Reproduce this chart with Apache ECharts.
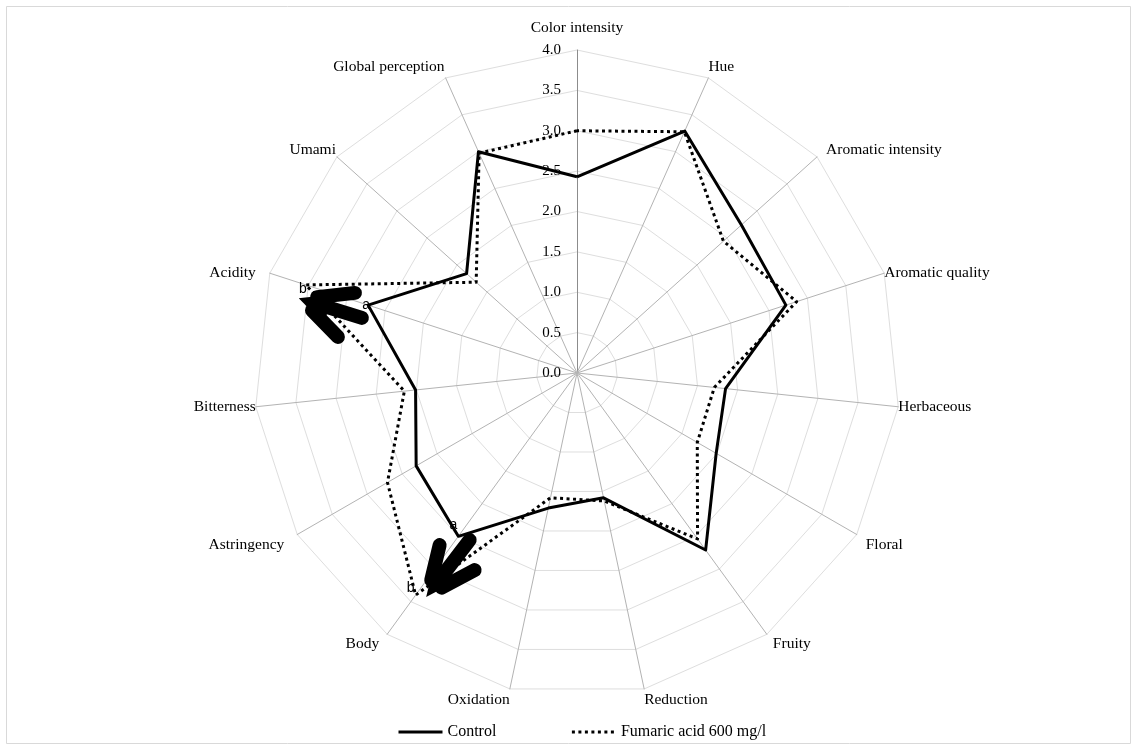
<!DOCTYPE html>
<html>
<head>
<meta charset="utf-8">
<script src="https://cdn.jsdelivr.net/npm/echarts@6/dist/echarts.min.js"></script>
<style>
  html, body { margin: 0; padding: 0; background: #fff; }
  #chart { width: 1137px; height: 750px; }
</style>
</head>
<body>
<div id="chart"></div>
<script>
// Sensory attributes, listed clockwise from the top
const attributes = [
  'Color intensity', 'Hue', 'Aromatic intensity', 'Aromatic quality', 'Herbaceous',
  'Floral', 'Fruity', 'Reduction', 'Oxidation', 'Body',
  'Astringency', 'Bitterness', 'Acidity', 'Umami', 'Global perception'
];
const controlScores = [2.43, 3.28, 2.74, 2.72, 1.85, 1.99, 2.71, 1.58, 1.71, 2.50, 2.30, 2.01, 2.72, 1.84, 3.00];
const fumaricScores = [3.00, 3.27, 2.44, 2.86, 1.71, 1.72, 2.54, 1.62, 1.58, 3.40, 2.71, 2.15, 3.53, 1.68, 2.98];
const seriesNames = ['Control', 'Fumaric acid 600 mg/l'];
const scaleMax = 4;
const scaleStep = 0.5;
// Significance letters: [attribute, series index, letter]
const significance = [
  ['Acidity', 0, 'a'], ['Acidity', 1, 'b'],
  ['Body', 0, 'a'], ['Body', 1, 'b']
];

const SERIF = "'Liberation Serif', 'Times New Roman', serif";
const SANS = "'Liberation Sans', Arial, sans-serif";
const NAME_SIZE = 15.5;
const CX = 577, CY = 373, R = 323;

// Placement of each attribute name:
// [gap from the outer ring, horizontal padding [right, left], vertical shift]
const nameLayout = {
  'Color intensity': [14, [0, 0], 0],
  'Hue': [0, [0, 0], -11],
  'Aromatic intensity': [0, [0, 9], -7],
  'Aromatic quality': [0, [0, 0], 0],
  'Herbaceous': [0, [0, 0], 0],
  'Floral': [0, [0, 9], 10],
  'Fruity': [0, [0, 6], 10],
  'Reduction': [0, [0, 0], 11],
  'Oxidation': [0, [0, 0], 11],
  'Body': [0, [8, 0], 10],
  'Astringency': [0, [13, 0], 10],
  'Bitterness': [0, [0, 0], 0],
  'Acidity': [0, [14, 0], -3],
  'Umami': [0, [1, 0], -7],
  'Global perception': [0, [1, 0], -11]
};

// ECharts lays radar indicators out counter-clockwise, so keep the first
// one at the top and reverse the rest to read clockwise.
function toRadarOrder(arr) { return [arr[0]].concat(arr.slice(1).reverse()); }

// Pixel position of a value on a clockwise attribute index
function pointAt(idx, value) {
  const ang = (90 - idx * 360 / attributes.length) * Math.PI / 180;
  const r = value / scaleMax * R;
  return [CX + r * Math.cos(ang), CY - r * Math.sin(ang)];
}

const indicators = toRadarOrder(attributes).map((name, i) => {
  const [gap, hpad, dy] = nameLayout[name];
  const style = { padding: [0, hpad[0], 0, hpad[1]] };
  // a blank line above or below the name moves it down or up by half a line
  if (Math.abs(dy) >= 5) style.lineHeight = 2 * Math.abs(dy);
  const ind = { name: name, min: 0, max: scaleMax, nameGap: gap, nameTextStyle: style };
  if (i === 0) {
    ind.axisLabel = { show: true };
    ind.axisLine = { lineStyle: { color: '#8c8c8c' } };
  }
  return ind;
});

function formatName(name) {
  const dy = nameLayout[name][2];
  if (Math.abs(dy) < 5) return name;
  return dy < 0 ? name + '\n ' : ' \n' + name;
}

const chart = echarts.init(document.getElementById('chart'));

// Thick annotation arrow: tip plus shaft and two barbs given as vectors
function arrow(tip, shaft, w1, w2) {
  const add = (p, v, k) => [p[0] + v[0] * k, p[1] + v[1] * k];
  const lw = 14;
  const els = [];
  els.push({ type: 'polygon', shape: { points: [tip, add(tip, w1, 0.6), add(tip, shaft, 0.45), add(tip, w2, 0.6)] },
    style: { fill: '#000', stroke: '#000', lineWidth: 2, lineJoin: 'miter' }, z: 100 });
  [shaft, w1, w2].forEach(v => {
    els.push({ type: 'line', shape: { x1: tip[0] + v[0] * 0.3, y1: tip[1] + v[1] * 0.3, x2: tip[0] + v[0], y2: tip[1] + v[1] },
      style: { stroke: '#000', lineWidth: lw, lineCap: 'round' }, z: 100 });
  });
  return els;
}

const graphics = [
  { type: 'rect', shape: { x: 6.5, y: 6.5, width: 1124, height: 737 },
    style: { fill: 'none', stroke: '#d9d9d9', lineWidth: 1 }, z: -1 }
];

significance.forEach(([attr, si, letter]) => {
  const idx = attributes.indexOf(attr);
  const v = (si === 0 ? controlScores : fumaricScores)[idx];
  const p = pointAt(idx, v);
  let off;
  if (attr === 'Acidity') off = si === 0 ? [-2, 0] : [-3, 4];
  else off = si === 0 ? [-5, -11] : [-5, -7];
  graphics.push({ type: 'text', x: p[0] + off[0], y: p[1] + off[1], z: 101,
    style: { text: letter, font: '14px ' + SANS, fill: '#000', textAlign: 'center', textVerticalAlign: 'middle' } });
});

// Arrows pointing at the significantly different scores
const acid = pointAt(attributes.indexOf('Acidity'), fumaricScores[attributes.indexOf('Acidity')]);
const body = pointAt(attributes.indexOf('Body'), fumaricScores[attributes.indexOf('Body')]);
graphics.push(...arrow([acid[0] - 5, acid[1] + 14], [61, 19], [54, -6], [37, 38]));
graphics.push(...arrow([body[0] + 12, body[1]], [42, -55], [12, -50], [47, -25]));

// Legend icon: a horizontal stroke centred in its box
const LINE_ICON = 'path://M0,0L0,0.01M0,10L100,10M100,20L100,20.01';

chart.setOption({
  animation: false,
  backgroundColor: '#fff',
  legend: {
    bottom: 5,
    left: 391,
    itemWidth: 44,
    itemHeight: 10,
    itemGap: 73,
    itemTextGap: 1,
    textStyle: { fontFamily: SERIF, fontSize: 16, color: '#000' },
    data: [
      { name: seriesNames[0], icon: LINE_ICON,
        itemStyle: { color: 'none', borderColor: '#000', borderWidth: 3, borderType: 'solid' } },
      { name: seriesNames[1], icon: LINE_ICON,
        itemStyle: { color: 'none', borderColor: '#000', borderWidth: 3, borderType: [3, 3.5] } }
    ]
  },
  radar: {
    center: [CX, CY],
    radius: R,
    startAngle: 90,
    shape: 'polygon',
    splitNumber: scaleMax / scaleStep,
    indicator: indicators,
    nameGap: 10,
    axisName: { color: '#000', fontFamily: SERIF, fontSize: NAME_SIZE, formatter: formatName },
    axisLine: { lineStyle: { color: '#b3b3b3', width: 1 } },
    splitLine: { lineStyle: { color: '#dedede', width: 1 } },
    splitArea: { show: false },
    axisLabel: {
      show: false,
      margin: 16,
      color: '#000',
      fontFamily: SERIF,
      fontSize: 15,
      formatter: v => Number(v).toFixed(1)
    }
  },
  series: [{
    type: 'radar',
    symbol: 'none',
    data: [
      { name: seriesNames[0], value: toRadarOrder(controlScores),
        lineStyle: { color: '#000', width: 3, type: 'solid' }, itemStyle: { color: '#000' } },
      { name: seriesNames[1], value: toRadarOrder(fumaricScores),
        lineStyle: { color: '#000', width: 3, type: [3, 3.5] }, itemStyle: { color: '#000' } }
    ]
  }],
  graphic: graphics
});
</script>
</body>
</html>
